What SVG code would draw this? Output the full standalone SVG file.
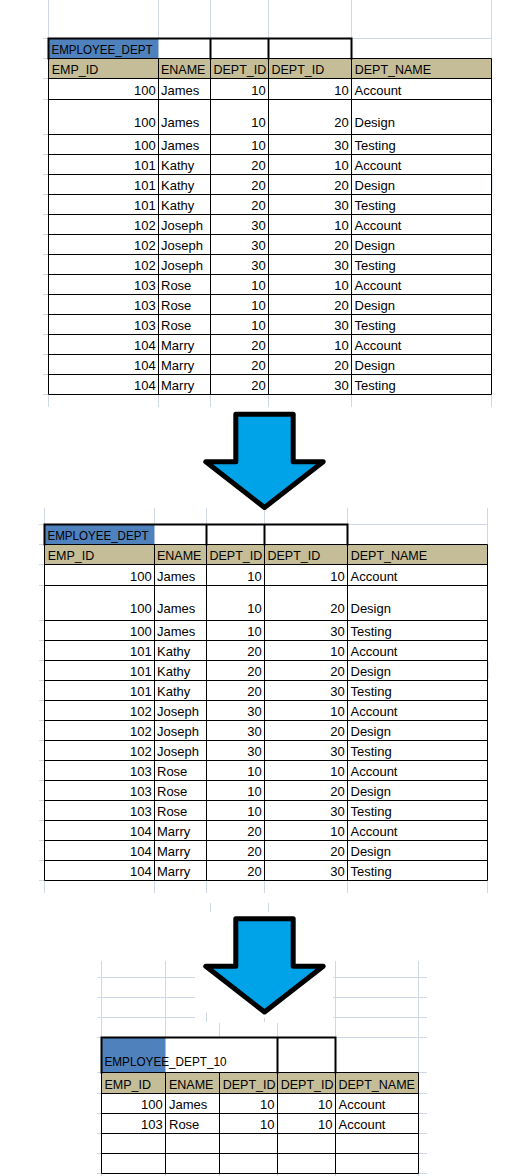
<svg xmlns="http://www.w3.org/2000/svg" width="520" height="1176" viewBox="0 0 520 1176">
<style>
.grid{stroke:#D0D7E5;stroke-width:1;fill:none}
.cell{fill:#fff}
.ttl{fill:#4F81BD}
.hdr{fill:#C4BD97}
.b{stroke:#000;stroke-width:1;fill:none}
.tk{stroke:#000;stroke-width:2;fill:none;stroke-linecap:square}
.t{font-family:"Liberation Sans",Arial,sans-serif;font-size:12.5px;fill:#000}
.d{font-family:"Liberation Sans",Arial,sans-serif;font-size:13px;fill:#000}
.r{text-anchor:end}
.arrow{fill:#00A2E8;stroke:#000;stroke-width:5;stroke-linejoin:round}
</style>
<rect width="520" height="1176" fill="#fff"/>

<g id="sheet-grid">
<path class="grid" d="M210.5 903V912 M268.5 903V912 M206.5 1012.5V1022 M264.5 1018V1022"/>
</g>

<g id="table1">
<path class="grid" d="M48.5 0V407 M158.5 0V407 M210.5 0V407 M268.5 0V407 M351.5 0V407 M491.5 0V407 M43 38.5H48 M351 38.5H491.5 M43 58.5H48 M43 78.5H48 M43 99.5H48 M43 134.5H48 M43 154.5H48 M43 174.5H48 M43 194.5H48 M43 214.5H48 M43 234.5H48 M43 254.5H48 M43 274.5H48 M43 294.5H48 M43 314.5H48 M43 334.5H48 M43 354.5H48 M43 374.5H48 M43 394.5H48"/>
<rect class="cell" x="48.5" y="38.5" width="303" height="20"/>
<rect class="ttl" x="48.5" y="38.5" width="110" height="20"/>
<rect class="hdr" x="48.5" y="58.5" width="443" height="20"/>
<rect class="cell" x="48.5" y="78.5" width="443" height="316"/>
<path class="grid" d="M492 175V193"/>
<path class="b" d="M48.5 58.5H491.5 M48.5 78.5H491.5 M48.5 99.5H491.5 M48.5 134.5H491.5 M48.5 154.5H491.5 M48.5 174.5H491.5 M48.5 194.5H491.5 M48.5 214.5H491.5 M48.5 234.5H491.5 M48.5 254.5H491.5 M48.5 274.5H491.5 M48.5 294.5H491.5 M48.5 314.5H491.5 M48.5 334.5H491.5 M48.5 354.5H491.5 M48.5 374.5H491.5 M48.5 394.5H491.5 M48.5 58.5V394.5 M158.5 58.5V394.5 M210.5 58.5V394.5 M268.5 58.5V394.5 M351.5 58.5V394.5 M491.5 58.5V394.5"/>
<path class="tk" d="M48.5 38.5H351.5 M48.5 38.5V58.5 M210.5 38.5V58.5 M268.5 38.5V58.5 M351.5 38.5V58.5"/>
<text class="t" x="51.5" y="53.5" textLength="101" lengthAdjust="spacingAndGlyphs">EMPLOYEE_DEPT</text>
<text class="t" x="51.7" y="73.5">EMP_ID</text>
<text class="t" x="161" y="73.5">ENAME</text>
<text class="t" x="213.5" y="73.5">DEPT_ID</text>
<text class="t" x="271.5" y="73.5">DEPT_ID</text>
<text class="t" x="354.7" y="73.5">DEPT_NAME</text>
<g class="d">
<text class="r" x="155.8" y="94.5">100</text><text x="161" y="94.5">James</text><text class="r" x="265.8" y="94.5">10</text><text class="r" x="348.8" y="94.5">10</text><text x="354.5" y="94.5">Account</text>
<text class="r" x="155.8" y="127">100</text><text x="161" y="127">James</text><text class="r" x="265.8" y="127">10</text><text class="r" x="348.8" y="127">20</text><text x="354.5" y="127">Design</text>
<text class="r" x="155.8" y="149.5">100</text><text x="161" y="149.5">James</text><text class="r" x="265.8" y="149.5">10</text><text class="r" x="348.8" y="149.5">30</text><text x="354.5" y="149.5">Testing</text>
<text class="r" x="155.8" y="169.5">101</text><text x="161" y="169.5">Kathy</text><text class="r" x="265.8" y="169.5">20</text><text class="r" x="348.8" y="169.5">10</text><text x="354.5" y="169.5">Account</text>
<text class="r" x="155.8" y="189.5">101</text><text x="161" y="189.5">Kathy</text><text class="r" x="265.8" y="189.5">20</text><text class="r" x="348.8" y="189.5">20</text><text x="354.5" y="189.5">Design</text>
<text class="r" x="155.8" y="209.5">101</text><text x="161" y="209.5">Kathy</text><text class="r" x="265.8" y="209.5">20</text><text class="r" x="348.8" y="209.5">30</text><text x="354.5" y="209.5">Testing</text>
<text class="r" x="155.8" y="229.5">102</text><text x="161" y="229.5">Joseph</text><text class="r" x="265.8" y="229.5">30</text><text class="r" x="348.8" y="229.5">10</text><text x="354.5" y="229.5">Account</text>
<text class="r" x="155.8" y="249.5">102</text><text x="161" y="249.5">Joseph</text><text class="r" x="265.8" y="249.5">30</text><text class="r" x="348.8" y="249.5">20</text><text x="354.5" y="249.5">Design</text>
<text class="r" x="155.8" y="269.5">102</text><text x="161" y="269.5">Joseph</text><text class="r" x="265.8" y="269.5">30</text><text class="r" x="348.8" y="269.5">30</text><text x="354.5" y="269.5">Testing</text>
<text class="r" x="155.8" y="289.5">103</text><text x="161" y="289.5">Rose</text><text class="r" x="265.8" y="289.5">10</text><text class="r" x="348.8" y="289.5">10</text><text x="354.5" y="289.5">Account</text>
<text class="r" x="155.8" y="309.5">103</text><text x="161" y="309.5">Rose</text><text class="r" x="265.8" y="309.5">10</text><text class="r" x="348.8" y="309.5">20</text><text x="354.5" y="309.5">Design</text>
<text class="r" x="155.8" y="329.5">103</text><text x="161" y="329.5">Rose</text><text class="r" x="265.8" y="329.5">10</text><text class="r" x="348.8" y="329.5">30</text><text x="354.5" y="329.5">Testing</text>
<text class="r" x="155.8" y="349.5">104</text><text x="161" y="349.5">Marry</text><text class="r" x="265.8" y="349.5">20</text><text class="r" x="348.8" y="349.5">10</text><text x="354.5" y="349.5">Account</text>
<text class="r" x="155.8" y="369.5">104</text><text x="161" y="369.5">Marry</text><text class="r" x="265.8" y="369.5">20</text><text class="r" x="348.8" y="369.5">20</text><text x="354.5" y="369.5">Design</text>
<text class="r" x="155.8" y="389.5">104</text><text x="161" y="389.5">Marry</text><text class="r" x="265.8" y="389.5">20</text><text class="r" x="348.8" y="389.5">30</text><text x="354.5" y="389.5">Testing</text>
</g>
</g>

<g id="table2" transform="translate(-4,486)">
<path class="grid" d="M48.5 22V407 M158.5 22V407 M210.5 22V407 M268.5 22V407 M351.5 22V407 M491.5 22V407 M43 38.5H48 M351 38.5H491.5 M43 58.5H48 M43 78.5H48 M43 99.5H48 M43 134.5H48 M43 154.5H48 M43 174.5H48 M43 194.5H48 M43 214.5H48 M43 234.5H48 M43 254.5H48 M43 274.5H48 M43 294.5H48 M43 314.5H48 M43 334.5H48 M43 354.5H48 M43 374.5H48 M43 394.5H48"/>
<rect class="cell" x="48.5" y="38.5" width="303" height="20"/>
<rect class="ttl" x="48.5" y="38.5" width="110" height="20"/>
<rect class="hdr" x="48.5" y="58.5" width="443" height="20"/>
<rect class="cell" x="48.5" y="78.5" width="443" height="316"/>
<path class="grid" d="M492 175V193"/>
<path class="b" d="M48.5 58.5H491.5 M48.5 78.5H491.5 M48.5 99.5H491.5 M48.5 134.5H491.5 M48.5 154.5H491.5 M48.5 174.5H491.5 M48.5 194.5H491.5 M48.5 214.5H491.5 M48.5 234.5H491.5 M48.5 254.5H491.5 M48.5 274.5H491.5 M48.5 294.5H491.5 M48.5 314.5H491.5 M48.5 334.5H491.5 M48.5 354.5H491.5 M48.5 374.5H491.5 M48.5 394.5H491.5 M48.5 58.5V394.5 M158.5 58.5V394.5 M210.5 58.5V394.5 M268.5 58.5V394.5 M351.5 58.5V394.5 M491.5 58.5V394.5"/>
<path class="tk" d="M48.5 38.5H351.5 M48.5 38.5V58.5 M210.5 38.5V58.5 M268.5 38.5V58.5 M351.5 38.5V58.5"/>
<text class="t" x="51.5" y="53.5" textLength="101" lengthAdjust="spacingAndGlyphs">EMPLOYEE_DEPT</text>
<text class="t" x="51.7" y="73.5">EMP_ID</text>
<text class="t" x="161" y="73.5">ENAME</text>
<text class="t" x="213.5" y="73.5">DEPT_ID</text>
<text class="t" x="271.5" y="73.5">DEPT_ID</text>
<text class="t" x="354.7" y="73.5">DEPT_NAME</text>
<g class="d">
<text class="r" x="155.8" y="94.5">100</text><text x="161" y="94.5">James</text><text class="r" x="265.8" y="94.5">10</text><text class="r" x="348.8" y="94.5">10</text><text x="354.5" y="94.5">Account</text>
<text class="r" x="155.8" y="127">100</text><text x="161" y="127">James</text><text class="r" x="265.8" y="127">10</text><text class="r" x="348.8" y="127">20</text><text x="354.5" y="127">Design</text>
<text class="r" x="155.8" y="149.5">100</text><text x="161" y="149.5">James</text><text class="r" x="265.8" y="149.5">10</text><text class="r" x="348.8" y="149.5">30</text><text x="354.5" y="149.5">Testing</text>
<text class="r" x="155.8" y="169.5">101</text><text x="161" y="169.5">Kathy</text><text class="r" x="265.8" y="169.5">20</text><text class="r" x="348.8" y="169.5">10</text><text x="354.5" y="169.5">Account</text>
<text class="r" x="155.8" y="189.5">101</text><text x="161" y="189.5">Kathy</text><text class="r" x="265.8" y="189.5">20</text><text class="r" x="348.8" y="189.5">20</text><text x="354.5" y="189.5">Design</text>
<text class="r" x="155.8" y="209.5">101</text><text x="161" y="209.5">Kathy</text><text class="r" x="265.8" y="209.5">20</text><text class="r" x="348.8" y="209.5">30</text><text x="354.5" y="209.5">Testing</text>
<text class="r" x="155.8" y="229.5">102</text><text x="161" y="229.5">Joseph</text><text class="r" x="265.8" y="229.5">30</text><text class="r" x="348.8" y="229.5">10</text><text x="354.5" y="229.5">Account</text>
<text class="r" x="155.8" y="249.5">102</text><text x="161" y="249.5">Joseph</text><text class="r" x="265.8" y="249.5">30</text><text class="r" x="348.8" y="249.5">20</text><text x="354.5" y="249.5">Design</text>
<text class="r" x="155.8" y="269.5">102</text><text x="161" y="269.5">Joseph</text><text class="r" x="265.8" y="269.5">30</text><text class="r" x="348.8" y="269.5">30</text><text x="354.5" y="269.5">Testing</text>
<text class="r" x="155.8" y="289.5">103</text><text x="161" y="289.5">Rose</text><text class="r" x="265.8" y="289.5">10</text><text class="r" x="348.8" y="289.5">10</text><text x="354.5" y="289.5">Account</text>
<text class="r" x="155.8" y="309.5">103</text><text x="161" y="309.5">Rose</text><text class="r" x="265.8" y="309.5">10</text><text class="r" x="348.8" y="309.5">20</text><text x="354.5" y="309.5">Design</text>
<text class="r" x="155.8" y="329.5">103</text><text x="161" y="329.5">Rose</text><text class="r" x="265.8" y="329.5">10</text><text class="r" x="348.8" y="329.5">30</text><text x="354.5" y="329.5">Testing</text>
<text class="r" x="155.8" y="349.5">104</text><text x="161" y="349.5">Marry</text><text class="r" x="265.8" y="349.5">20</text><text class="r" x="348.8" y="349.5">10</text><text x="354.5" y="349.5">Account</text>
<text class="r" x="155.8" y="369.5">104</text><text x="161" y="369.5">Marry</text><text class="r" x="265.8" y="369.5">20</text><text class="r" x="348.8" y="369.5">20</text><text x="354.5" y="369.5">Design</text>
<text class="r" x="155.8" y="389.5">104</text><text x="161" y="389.5">Marry</text><text class="r" x="265.8" y="389.5">20</text><text class="r" x="348.8" y="389.5">30</text><text x="354.5" y="389.5">Testing</text>
</g>
</g>

<g id="table3">
<path class="grid" d="M101.5 961V1176 M165.5 961V1176 M335.5 961V1176 M418.5 961V1176 M219.5 1023V1176 M277.5 1023V1176 M98 977.5H195 M98 997.5H195 M98 1017.5H195 M333 977.5H427 M333 997.5H427 M333 1017.5H427 M97 1037.5H101 M335 1037.5H427 M97 1072.5H427 M97 1093.5H427 M97 1113.5H427 M97 1133.5H427 M97 1153.5H427 M97 1173.5H427"/>
<rect class="cell" x="101.5" y="1037.5" width="234" height="35"/>
<rect class="ttl" x="101.5" y="1037.5" width="64" height="35"/>
<rect class="hdr" x="101.5" y="1072.5" width="317" height="21"/>
<rect class="cell" x="101.5" y="1093.5" width="317" height="80"/>
<path class="b" d="M101.5 1072.5H418.5 M101.5 1093.5H418.5 M101.5 1113.5H418.5 M101.5 1133.5H418.5 M101.5 1153.5H418.5 M101.5 1173.5H418.5 M101.5 1072.5V1173.5 M165.5 1072.5V1173.5 M219.5 1072.5V1173.5 M277.5 1072.5V1173.5 M335.5 1072.5V1173.5 M418.5 1072.5V1173.5"/>
<path class="tk" d="M101.5 1037.5H335.5 M101.5 1037.5V1072.5 M277.5 1037.5V1072.5 M335.5 1037.5V1072.5"/>
<text class="t" x="104.5" y="1066" textLength="122" lengthAdjust="spacingAndGlyphs">EMPLOYEE_DEPT_10</text>
<text class="t" x="104.5" y="1088.5">EMP_ID</text>
<text class="t" x="169" y="1088.5">ENAME</text>
<text class="t" x="222.7" y="1088.5">DEPT_ID</text>
<text class="t" x="280.7" y="1088.5">DEPT_ID</text>
<text class="t" x="338.5" y="1088.5">DEPT_NAME</text>
<g class="d">
<text class="r" x="162.7" y="1108.5">100</text><text x="169" y="1108.5">James</text><text class="r" x="274.5" y="1108.5">10</text><text class="r" x="332.5" y="1108.5">10</text><text x="338.5" y="1108.5">Account</text>
<text class="r" x="162.7" y="1128.5">103</text><text x="169" y="1128.5">Rose</text><text class="r" x="274.5" y="1128.5">10</text><text class="r" x="332.5" y="1128.5">10</text><text x="338.5" y="1128.5">Account</text>
</g>
</g>

<g id="connectors">
<path class="arrow" d="M235.8 414.2H293.2V461.8H323.2L264.5 507.5L205.8 461.8H235.8Z"/>
<path class="arrow" d="M235.8 918.7H293.2V966.3H323.2L264.5 1012L205.8 966.3H235.8Z"/>
</g>
</svg>
